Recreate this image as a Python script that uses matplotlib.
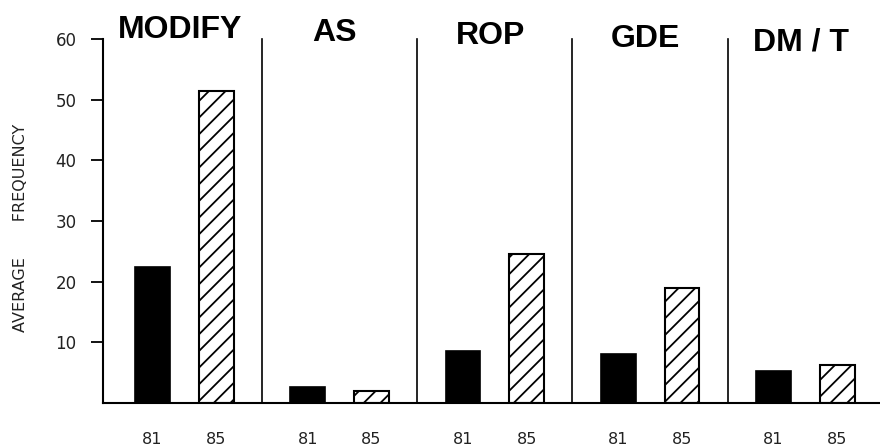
import matplotlib.pyplot as plt
import numpy as np

categories = ['MODIFY', 'AS', 'ROP', 'GDE', 'DM / T']
year_labels = ['81', '85']
values_81 = [22.5, 2.6, 8.6, 8.0, 5.3]
values_85 = [51.5, 2.0, 24.6, 19.0, 6.2]
y_ticks = [10, 20, 30, 40, 50, 60]

plt.rcParams['hatch.linewidth'] = 1.3

fig = plt.figure(figsize=(8.8, 4.48), dpi=100)
ax = fig.add_axes([103 / 880, 45 / 448, 777 / 880, 364 / 448])

x = np.arange(len(categories))
off = 0.205
w = 0.225
ax.bar(x - off, values_81, width=w, color='black', edgecolor='black', linewidth=1.2)
ax.bar(x + off, values_85, width=w, color='white', edgecolor='black', linewidth=1.5, hatch='//')

# vertical separators between groups
for k in range(len(categories) - 1):
    ax.plot([k + 0.5, k + 0.5], [0, 60], color='black', linewidth=1.2, clip_on=False)

ax.set_xlim(-0.523, 4.48)
ax.set_ylim(0, 60)

for s in ['top', 'right']:
    ax.spines[s].set_visible(False)
ax.spines['left'].set_linewidth(1.5)
ax.spines['bottom'].set_linewidth(1.5)

ax.set_yticks(y_ticks)
ax.set_yticklabels([str(t) for t in y_ticks], fontsize=12, color='#222222')
ax.tick_params(axis='y', length=9, width=1.3, pad=10)

ticks_x = np.concatenate([x - off, x + off])
ax.set_xticks(ticks_x)
ax.set_xticklabels([year_labels[0]] * len(x) + [year_labels[1]] * len(x),
                   fontsize=11.5, color='#222222')
ax.tick_params(axis='x', length=0, pad=21)

ax.set_ylabel('AVERAGE       FREQUENCY', fontsize=11.5, color='#222222')
ax.yaxis.set_label_coords(-0.097, 0.48)

# group titles (the scan is slightly tilted)
for i, name in enumerate(categories):
    ax.text(i - 0.03, 60.1 - 0.5 * i, name, ha='center', va='baseline',
            fontsize=23, fontweight='bold', family='Liberation Sans')

fig.savefig('out.png', dpi=100)
